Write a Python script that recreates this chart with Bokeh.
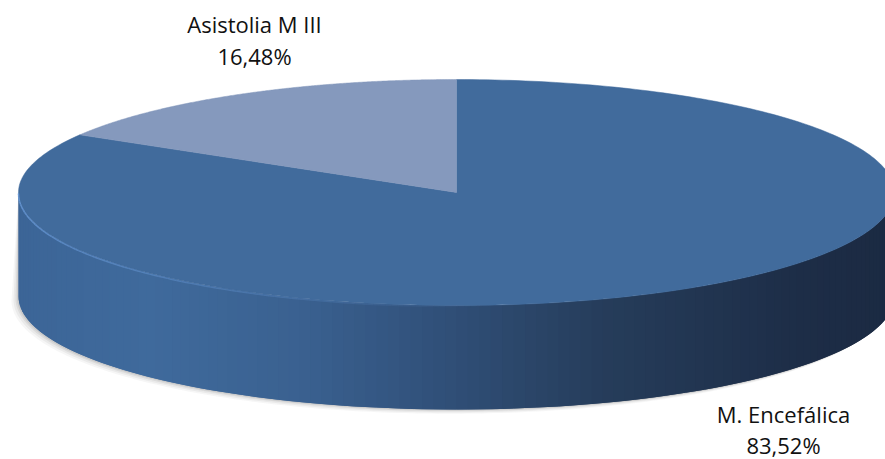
import numpy as np
from bokeh.plotting import figure
from bokeh.models import Range1d
from bokeh.core.properties import value
from bokeh.embed import file_html
from bokeh.resources import INLINE

# ---- data ----
categories = ["M. Encefálica", "Asistolia M III"]
percentages = [83.52, 16.48]
top_colors = ["#416b9c", "#8599bd"]

# ---- layout (reference pixel space, y down) ----
W, H = 885, 459
cx, cy, rx, ry, depth = 456.0, 192.0, 438.0, 113.0, 104.0

p = figure(width=W, height=H, x_range=Range1d(0, W), y_range=Range1d(H, 0),
           output_backend="svg", toolbar_location=None, min_border=0,
           x_axis_location=None, y_axis_location=None)
p.grid.visible = False
p.outline_line_color = None
p.background_fill_color = "white"

def pt(theta_deg, dy=0.0):
    t = np.radians(theta_deg)
    return cx + rx * np.sin(t), cy - ry * np.cos(t) + dy

# soft shadow below the side
for k, a in [(7, 0.05), (5, 0.07), (3, 0.10), (1.5, 0.12)]:
    th = np.linspace(90, 270, 200)
    xs, ys = pt(th, depth)
    xs_top, ys_top = pt(th[::-1], 0)
    p.patch(np.concatenate([xs - k, xs_top]), np.concatenate([ys + k * 0.6, ys_top]),
            fill_color="#555555", fill_alpha=a, line_color=None)

# side wall with horizontal gradient
stops_x = [18, 150, 300, 430, 600, 800, 894]
stops_c = ["#3c6597", "#3f6a9c", "#3a6190", "#31517b", "#263d5b", "#1d2d47", "#1b2a42"]
def hex2rgb(h):
    return np.array([int(h[i:i + 2], 16) for i in (1, 3, 5)], dtype=float)
stop_rgb = np.array([hex2rgb(c) for c in stops_c])

N = 120
ths = np.linspace(270, 90, N + 1)  # left -> right along the front
xs_list, ys_list, cols = [], [], []
for i in range(N):
    a = ths[i]
    b = ths[min(i + 2, N)]  # overlap into the next strip to hide seams
    xa, ya = pt(a); xb, yb = pt(b)
    xs_list.append([xa, xb, xb, xa])
    ys_list.append([ya, yb, yb + depth, ya + depth])
    xm = (pt(ths[i])[0] + pt(ths[i + 1])[0]) / 2
    rgb = [np.interp(xm, stops_x, stop_rgb[:, j]) for j in range(3)]
    cols.append("#%02x%02x%02x" % tuple(int(round(v)) for v in rgb))
p.patches(xs_list, ys_list, fill_color=cols, line_color=None)

# top face slices (M. Encefálica clockwise from 12 o'clock, then Asistolia)
start = 0.0
for cat, val, col in zip(categories, percentages, top_colors):
    end = start + 360.0 * val / 100.0
    th = np.linspace(start, end, 300)
    xs, ys = pt(th)
    p.patch(np.concatenate([[cx], xs]), np.concatenate([[cy], ys]),
            fill_color=col, line_color=col, line_width=0.5)
    start = end

# rim highlight along the front-left edge
th = np.linspace(270, 175, 120)
xs, ys = pt(th)
segx = [[xs[i], xs[i + 1]] for i in range(len(xs) - 1)]
segy = [[ys[i] + 1, ys[i + 1] + 1] for i in range(len(ys) - 1)]
alphas = list(np.linspace(0.9, 0.0, len(segx)))
p.multi_line(segx, segy, line_color="#6a9ad8", line_width=1.5, line_alpha=alphas)

# labels
font = value("Open Sans")
def fmt(v):
    return ("%.2f" % v).replace(".", ",") + "%"
label_pos = [(783, 413, 444), (254, 23, 55)]
for cat, val, (lx, ly1, ly2) in zip(categories, percentages, label_pos):
    p.text(x=[lx], y=[ly1], text=[cat], text_font=font, text_font_size="22px",
           text_align="center", text_baseline="middle", text_color="#111111")
    p.text(x=[lx], y=[ly2], text=[fmt(val)], text_font=font, text_font_size="22px",
           text_align="center", text_baseline="middle", text_color="#111111")

open("out.html", "w").write(file_html(p, INLINE))
